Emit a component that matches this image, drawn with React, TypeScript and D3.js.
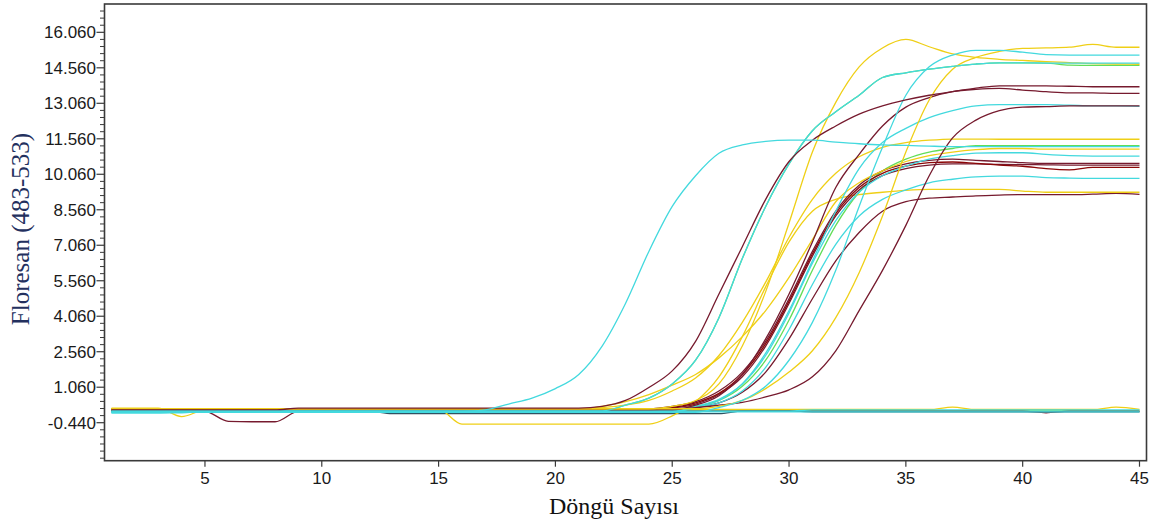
import React from 'react';
import * as d3 from 'd3';

// ---------- data ----------
const cycles = [1,2,3,4,5,6,7,8,9,10,11,12,13,14,15,16,17,18,19,20,21,22,23,24,25,26,27,28,29,30,31,32,33,34,35,36,37,38,39,40,41,42,43,44,45];

const yTickValues = [-0.44, 1.06, 2.56, 4.06, 5.56, 7.06, 8.56, 10.06, 11.56, 13.06, 14.56, 16.06];
const yTickLabels = ['-0.440','1.060','2.560','4.060','5.560','7.060','8.560','10.060','11.560','13.060','14.560','16.060'];
const xTickValues = [5, 10, 15, 20, 25, 30, 35, 40, 45];

const cyanEarly = [
  -0.02,-0.02,-0.02,-0.02,0.03,0.03,0.03,0.03,0.03,0.03,0.03,0.03,0.03,0.03,0.03,
  0.03,0.1,0.35,0.6,1.0,1.6,2.8,4.6,6.8,8.7,10.0,10.95,11.3,11.45,11.5,
  11.5,11.42,11.35,11.3,11.28,11.25,11.23,11.23,11.23,11.23,11.23,11.23,11.23,11.23,11.23];
const maroonA = [
  0.1,0.1,0.1,0.1,0.1,0.1,0.1,0.1,0.18,0.18,0.18,0.18,0.18,0.18,0.18,
  0.18,0.18,0.18,0.18,0.18,0.18,0.25,0.5,1.05,1.75,3.0,5.0,7.0,9.0,10.6,
  11.5,12.1,12.6,12.95,13.2,13.4,13.55,13.7,13.8,13.8,13.8,13.78,13.76,13.76,13.76];
const cyanD = [
  0.06,0.06,0.06,0.06,0.06,0.06,0.06,0.06,0.06,0.06,0.06,0.06,0.06,0.06,0.06,
  0.06,0.06,0.06,0.06,0.06,0.06,0.06,0.3,0.6,1.2,2.2,4.0,6.5,8.7,10.5,
  11.9,12.7,13.4,14.15,14.35,14.5,14.62,14.72,14.77,14.77,14.76,14.76,14.76,14.76,14.76];
const green2 = [
  0.06,0.06,0.06,0.06,0.06,0.06,0.06,0.06,0.06,0.06,0.06,0.06,0.06,0.06,0.06,
  0.06,0.06,0.06,0.06,0.06,0.06,0.06,0.3,0.6,1.2,2.2,4.0,6.5,8.7,10.5,
  11.9,12.7,13.4,14.15,14.35,14.5,14.62,14.72,14.77,14.77,14.76,14.67,14.66,14.66,14.66];
const cyanE = [
  0,0,0,0,0,0,0,0,0,0,0,0,0,0,0,
  0,0,0,0,0,0,0,0,0,0,0,0.2,0.5,1.1,2.2,
  3.8,6.0,8.7,11.2,13.4,14.6,15.1,15.3,15.3,15.22,15.12,15.1,15.1,15.1,15.1];
const yellowF = [
  0.15,0.15,0.15,0.15,0.15,0.15,0.15,0.15,0.15,0.15,0.15,0.15,0.15,0.15,0.15,
  0.15,0.15,0.15,0.15,0.15,0.15,0.15,0.15,0.15,0.25,0.5,1.2,2.8,5.1,8.0,
  11.0,13.1,14.6,15.4,15.76,15.45,15.15,15.0,14.92,14.87,14.82,14.78,14.74,14.72,14.71];
const yellowG = [
  0.15,0.15,0.15,0.15,0.15,0.15,0.15,0.15,0.15,0.15,0.15,0.15,0.15,0.15,0.15,
  0.15,0.15,0.15,0.15,0.15,0.15,0.15,0.15,0.15,0.15,0.15,0.25,0.5,1.0,1.7,
  2.6,4.0,5.9,8.3,11.0,13.2,14.5,15.0,15.25,15.38,15.4,15.43,15.55,15.43,15.43];
const maroonB = [
  0.1,0.1,0.1,0.1,0.1,0.1,0.1,0.1,0.1,0.1,0.1,0.1,0.1,0.1,0.1,
  0.1,0.1,0.1,0.1,0.1,0.1,0.1,0.1,0.1,0.1,0.3,0.7,1.6,3.1,5.0,
  7.2,9.5,10.9,12.1,12.9,13.3,13.55,13.65,13.69,13.62,13.55,13.5,13.5,13.48,13.48];
const maroonC = [
  0.1,0.1,0.1,0.1,0.1,0.1,0.1,0.1,0.1,0.1,0.1,0.1,0.1,0.1,0.1,
  0.1,0.1,0.1,0.1,0.1,0.1,0.1,0.1,0.1,0.15,0.2,0.3,0.42,0.65,0.95,
  1.5,2.6,4.3,6.0,7.9,10.0,11.6,12.35,12.75,12.9,12.92,12.95,12.95,12.95,12.95];
const cyanJ = [
  0.05,0.05,0.05,0.05,0.05,0.05,0.05,0.05,0.05,0.05,0.05,0.05,0.05,0.05,0.05,
  0.05,0.05,0.05,0.05,0.05,0.05,0.05,0.05,0.05,0.05,0.2,0.5,1.2,2.5,4.3,
  6.4,8.5,10.3,11.4,12.0,12.45,12.75,12.95,13.0,13.0,13.0,12.98,12.95,12.95,12.93];
const yellowH = [
  0.15,0.15,0.15,0.15,0.15,0.15,0.15,0.15,0.15,0.15,0.15,0.15,0.15,0.15,0.15,
  0.15,0.15,0.15,0.15,0.15,0.15,0.2,0.3,0.5,0.9,1.45,2.4,3.8,5.5,7.4,
  9.0,10.1,10.8,11.2,11.4,11.5,11.55,11.55,11.54,11.54,11.54,11.54,11.54,11.54,11.54];
const yellowA = [
  0.12,0.12,0.12,0.12,0.12,0.12,0.12,0.12,0.12,0.12,0.12,0.12,0.12,0.12,0.12,
  0.12,0.12,0.12,0.12,0.12,0.12,0.25,0.45,0.75,1.15,1.6,2.3,3.2,4.3,5.7,
  7.3,8.9,9.7,10.2,10.6,10.85,11.0,11.1,11.15,11.15,11.12,11.12,11.12,11.12,11.12];
const yellowB = [
  0.17,0.17,0.17,-0.18,0.1,0.12,0.12,0.12,0.12,0.12,0.12,0.12,0.12,0.12,0.12,
  -0.5,-0.5,-0.5,-0.5,-0.5,-0.5,-0.5,-0.5,-0.5,-0.15,0.45,1.5,3.2,5.3,7.2,
  8.5,9.0,9.2,9.3,9.38,9.42,9.42,9.42,9.42,9.35,9.3,9.3,9.3,9.3,9.3];
const green1 = [
  0.08,0.08,0.08,0.08,0.08,0.08,0.08,0.08,0.08,0.08,0.08,0.08,0.08,0.08,0.08,
  0.08,0.08,0.08,0.08,0.08,0.08,0.08,0.08,0.08,0.08,0.25,0.5,1.1,2.2,3.9,
  6.0,7.9,9.3,10.2,10.7,11.0,11.15,11.27,11.27,11.27,11.27,11.27,11.27,11.27,11.27];
const cyanK = [
  0.03,0.03,0.03,0.03,0.03,0.03,0.03,0.03,0.03,0.03,0.03,0.03,0.03,0.03,0.03,
  0.03,0.03,0.03,0.03,0.03,0.03,0.03,0.03,0.03,0.03,0.25,0.55,1.2,2.4,4.2,
  6.3,8.1,9.3,10.0,10.4,10.7,10.85,10.95,10.97,10.97,10.9,10.85,10.83,10.83,10.83];
const maroonM1 = [
  0.15,0.15,0.15,0.15,0.15,0.15,0.15,0.15,0.15,0.15,0.15,0.15,0.15,0.15,0.15,
  0.15,0.15,0.15,0.15,0.15,0.15,0.15,0.15,0.15,0.25,0.45,0.9,1.7,3.0,4.8,
  6.8,8.5,9.6,10.2,10.5,10.65,10.7,10.65,10.6,10.55,10.52,10.52,10.52,10.52,10.52];
const darkRedM2 = [
  0.12,0.12,0.12,0.12,0.12,0.12,0.12,0.12,0.12,0.12,0,0,0,0.08,0.08,
  0.08,0.08,0.08,0.08,0.08,0.08,0.08,0.08,0.08,0.2,0.4,0.8,1.6,2.9,4.7,
  6.7,8.4,9.5,10.1,10.4,10.55,10.58,10.52,10.45,10.4,10.3,10.25,10.35,10.35,10.35];
const maroonM3 = [
  0.1,0.1,0.1,0.1,0.1,0.1,0.1,0.1,0.1,0.1,0.1,0.1,0.1,0.1,0.1,
  0.1,0.1,0.1,0.1,0.1,0.1,0.1,0.1,0.1,0.18,0.35,0.75,1.5,2.8,4.6,
  6.6,8.3,9.4,10.0,10.3,10.45,10.5,10.5,10.48,10.47,10.46,10.45,10.45,10.45,10.45];
const cyanL = [
  0,0,0,0,0,0,0,0,0,0,0,0,0,0,0,
  0,0,0,0,0,0,0,0,0,0,0.2,0.4,0.9,1.9,3.5,
  5.4,7.1,8.3,9.0,9.4,9.7,9.85,9.95,9.98,9.98,9.92,9.9,9.89,9.89,9.89];
const maroonM4 = [
  0.1,0.1,0.1,0.1,0.05,-0.38,-0.4,-0.4,0.05,0.08,0.08,0.08,0.08,0.08,0.08,
  0.08,0.08,0.08,0.08,0.08,0.08,0.08,0.08,0.08,0.08,0.2,0.4,0.85,1.7,3.1,
  4.8,6.4,7.6,8.5,8.9,9.05,9.1,9.15,9.18,9.2,9.2,9.2,9.22,9.25,9.21];

const cyanFlat1 = [
  -0.02,-0.02,-0.02,0.02,0.02,0.02,0.02,0.02,0.02,0.02,0.02,0.02,0.02,0.02,0.02,
  0.02,0.02,0.02,0.02,0.02,0.02,0.02,0.02,0.02,0.02,0.02,0.02,0.02,0.02,0.02,
  0.02,0.02,0.02,0.02,0.02,0.02,0.02,0.02,0.02,0.02,0.02,0.02,0.02,0.02,0.02];
const cyanFlat2 = [
  0.05,0.05,0.05,0.05,0.05,0.05,0.05,0.05,0.05,0.05,0.05,0.05,0.05,0.05,0.05,
  0.05,0.05,0.05,0.05,0.05,0.05,0.05,0.05,0.05,0.05,0.05,0.05,0.05,0.05,0.05,
  0.1,0.1,0.1,0.1,0.1,0.1,0.1,0.1,0.1,0.1,0.1,0.1,0.1,0.1,0.1];
const slateFlat = [
  0.05,0.05,0.05,0.05,0.05,0.05,0.05,0.05,0.05,0.05,0.05,0.05,-0.06,-0.06,-0.06,
  -0.06,-0.06,-0.06,-0.06,-0.06,-0.06,-0.06,-0.06,-0.06,-0.06,-0.06,-0.06,0.05,0.05,0.05,
  0.02,0.02,0.02,0.02,0.02,0.02,0.02,0.02,0.02,0.02,0.02,0.02,0.02,0.02,0.02];
const yellowFlat = [
  0.12,0.12,0.12,0.12,0.12,0.12,0.12,0.12,0.12,0.12,0.12,0.12,0.12,0.12,0.12,
  0.12,0.12,0.12,0.12,0.12,0.12,0.12,0.12,0.12,0.12,0.12,0.12,0.12,0.12,0.12,
  0.12,0.12,0.12,0.12,0.12,0.12,0.22,0.12,0.12,0.12,0.12,0.12,0.12,0.22,0.12];
const greenFlat = [
  0.06,0.06,0.06,0.06,0.06,0.06,0.06,0.06,0.06,0.06,0.06,0.06,0.06,0.06,0.06,
  0.06,0.06,0.06,0.06,0.06,0.06,0.06,0.06,0.06,0.06,0.06,0.06,0.06,0.06,0.06,
  0.06,0.06,0.06,0.06,0.06,0.06,0.06,0.06,0.06,0.06,0.06,0.06,0.06,0.06,0.06];
const maroonFlat = [
  0.05,0.05,0.05,0.05,0.05,0.05,0.05,0.05,0.05,0.05,0.05,0.05,0.05,0.05,0.05,
  0.05,0.05,0.05,0.05,0.05,0.05,0.05,0.05,0.05,0.05,0.05,0.05,0.05,0.05,0.05,
  0.05,0.05,0.05,0.05,0.05,0.05,0.05,0.05,0.05,0.05,-0.02,0.05,0.05,0.05,0.05];

const CYAN = '#43d9de';
const YELLOW = '#efcf16';
const MAROON = '#761a2e';
const DARKRED = '#8b0606';
const GREEN = '#62dd58';
const SLATE = '#2f5262';

// draw order: first = bottom
const series = [
  { name: 'green1', color: GREEN, values: green1 },
  { name: 'green2', color: GREEN, values: green2 },
  { name: 'greenFlat', color: GREEN, values: greenFlat },
  { name: 'maroonFlat', color: MAROON, values: maroonFlat },
  { name: 'yellowFlat', color: YELLOW, values: yellowFlat },
  { name: 'slateFlat', color: SLATE, values: slateFlat },
  { name: 'maroonM4', color: MAROON, values: maroonM4 },
  { name: 'yellowB', color: YELLOW, values: yellowB },
  { name: 'cyanL', color: CYAN, values: cyanL },
  { name: 'maroonM3', color: MAROON, values: maroonM3 },
  { name: 'darkRedM2', color: DARKRED, values: darkRedM2 },
  { name: 'maroonM1', color: MAROON, values: maroonM1 },
  { name: 'cyanK', color: CYAN, values: cyanK },
  { name: 'yellowA', color: YELLOW, values: yellowA },
  { name: 'yellowH', color: YELLOW, values: yellowH },
  { name: 'cyanJ', color: CYAN, values: cyanJ },
  { name: 'maroonC', color: MAROON, values: maroonC },
  { name: 'maroonB', color: MAROON, values: maroonB },
  { name: 'yellowG', color: YELLOW, values: yellowG },
  { name: 'yellowF', color: YELLOW, values: yellowF },
  { name: 'cyanE', color: CYAN, values: cyanE },
  { name: 'cyanD', color: CYAN, values: cyanD },
  { name: 'maroonA', color: MAROON, values: maroonA },
  { name: 'cyanEarly', color: CYAN, values: cyanEarly },
  { name: 'cyanFlat2', color: CYAN, values: cyanFlat2 },
  { name: 'cyanFlat1', color: CYAN, values: cyanFlat1 },
];

const W = 1160;
const H = 531;
const L = 104.5, R = 1146.5, T = 4, B = 460.7;

export default function App() {
  const x = d3.scaleLinear().domain([0.7, 45.3]).range([L, R]);
  const y = d3.scaleLinear().domain([-2.046, 17.257]).range([B, T]);
  const line = d3.line<number>()
    .x((_, i) => x(cycles[i]))
    .y((d) => y(d))
    .curve(d3.curveMonotoneX);

  const minorTicks = d3.range(-1.94, 17.2, 0.3).filter((v) => {
    return !yTickValues.some((t) => Math.abs(t - v) < 0.01) && y(v) > T + 2 && y(v) < B - 1;
  });

  const sans = '"Liberation Sans", Arial, sans-serif';
  const serif = '"Liberation Serif", "Times New Roman", serif';

  return (
    <svg width={W} height={H} style={{ position: 'absolute', left: 0, top: 0, background: '#fff' }}>
      <rect x={0} y={0} width={W} height={H} fill="#fff" />
      <g>
        {series.map((s) => (
          <path key={s.name} d={line(s.values) || ''} fill="none" stroke={s.color} strokeWidth={1.3} strokeLinejoin="round" />
        ))}
      </g>
      {/* frame */}
      <rect x={L} y={T} width={R - L} height={B - T} fill="none" stroke="#3a3a3a" strokeWidth={1.6} />
      {/* y ticks */}
      {minorTicks.map((v, i) => (
        <line key={'m' + i} x1={L - 4.5} x2={L} y1={y(v)} y2={y(v)} stroke="#3a3a3a" strokeWidth={1} />
      ))}
      {yTickValues.map((v, i) => (
        <g key={'y' + i}>
          <line x1={L - 8} x2={L} y1={y(v)} y2={y(v)} stroke="#3a3a3a" strokeWidth={1.2} />
          <text x={96} y={y(v)} dy="0.36em" textAnchor="end" fontFamily={sans} fontSize={17} fill="#1a1a1a">{yTickLabels[i]}</text>
        </g>
      ))}
      {/* x ticks */}
      {xTickValues.map((v) => (
        <g key={'x' + v}>
          <line x1={x(v)} x2={x(v)} y1={B} y2={B + 6} stroke="#3a3a3a" strokeWidth={1.2} />
          <text x={x(v)} y={484} textAnchor="middle" fontFamily={sans} fontSize={17} fill="#1a1a1a">{v}</text>
        </g>
      ))}
      <text x={614} y={514} textAnchor="middle" fontFamily={serif} fontSize={24} fill="#111">Döngü Sayısı</text>
      <text transform={`translate(29,229) rotate(-90)`} textAnchor="middle" fontFamily={serif} fontSize={25} fill="#23305e">Floresan (483-533)</text>
    </svg>
  );
}
